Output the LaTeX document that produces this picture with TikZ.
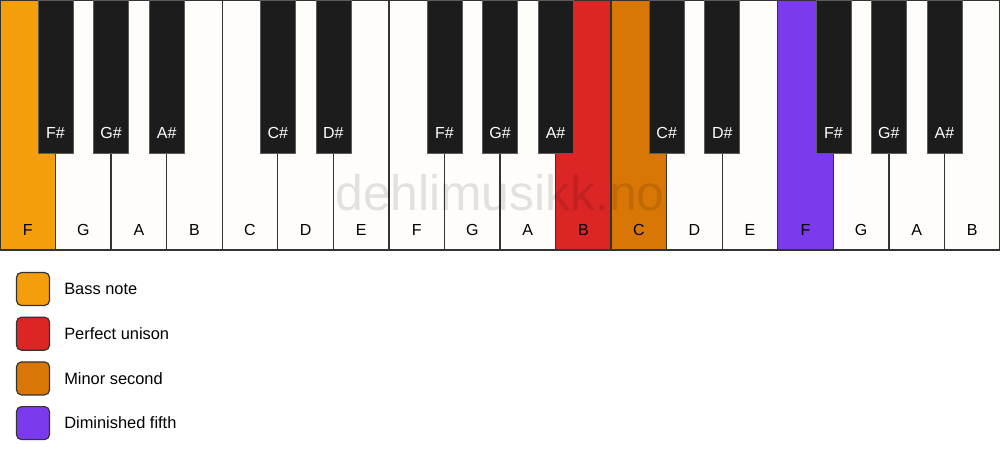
\documentclass[tikz,border=0pt]{standalone}
\usepackage{fontspec}
\setmainfont{Liberation Sans}
\definecolor{keywhite}{HTML}{FFFDF9}
\definecolor{keyblack}{HTML}{1C1C1C}
\definecolor{keyline}{HTML}{333333}
\definecolor{cbass}{HTML}{F59E0B}
\definecolor{cunison}{HTML}{DC2626}
\definecolor{csecond}{HTML}{D97706}
\definecolor{cfifth}{HTML}{7C3AED}
\tikzset{
  whitekey/.style={draw=keyline, line width=1.3pt, fill=keywhite, minimum width=55.556pt, minimum height=250pt, anchor=north west, inner sep=0pt, outer sep=0pt},
  blackkey/.style={draw=keyline!80, line width=0.6pt, fill=keyblack, minimum width=35pt, minimum height=153pt, anchor=north, inner sep=0pt, outer sep=0pt},
  wlabel/.style={font=\fontsize{16}{19}\selectfont, text=black, inner sep=0pt},
  blabel/.style={font=\fontsize{16}{19}\selectfont, text=white, inner sep=0pt},
  legbox/.style={draw=keyline, line width=1.2pt, rounded corners=5pt, minimum width=33pt, minimum height=33pt, inner sep=0pt},
  legtext/.style={font=\fontsize{16.4}{19}\selectfont, anchor=west, inner sep=0pt},
  watermark/.style={font=\fontsize{49.8}{58}\selectfont, text=black, text opacity=0.11, inner sep=0pt}
}
\begin{document}
\begin{tikzpicture}[x=1pt,y=1pt]
\useasboundingbox (0,0) rectangle (1000,-461);
\fill[white] (0,0) rectangle (1000,-461);
% white keys
\foreach \n [count=\i from 0] in {F,G,A,B,C,D,E,F,G,A,B,C,D,E,F,G,A,B}{
  \pgfmathsetmacro{\xx}{\i*55.556}
  \ifnum\i=0 \def\kc{cbass}\else
  \ifnum\i=10 \def\kc{cunison}\else
  \ifnum\i=11 \def\kc{csecond}\else
  \ifnum\i=14 \def\kc{cfifth}\else
  \def\kc{keywhite}\fi\fi\fi\fi
  \node[whitekey, fill=\kc] (w\i) at (\xx,0) {};
  \node[wlabel] (wl\i) at ([yshift=20pt]w\i.south) {\n};
}
% watermark
\node[watermark] (wm) at (500,-193) {dehlimusikk.no};
% black keys
\foreach \b/\n in {0/F\#,1/G\#,2/A\#,4/C\#,5/D\#,7/F\#,8/G\#,9/A\#,11/C\#,12/D\#,14/F\#,15/G\#,16/A\#}{
  \node[blackkey] (b\b) at (w\b.north east) {};
  \node[blabel] (bl\b) at ([yshift=20pt]b\b.south) {\n};
}
% legend
\foreach \c/\t [count=\j from 0] in {cbass/Bass note,cunison/Perfect unison,csecond/Minor second,cfifth/Diminished fifth}{
  \node[legbox, fill=\c] (lb\j) at (33,-289-\j*44.7) {};
  \node[legtext] (lt\j) at ([xshift=14pt]lb\j.east) {\t};
}
\end{tikzpicture}
\end{document}
